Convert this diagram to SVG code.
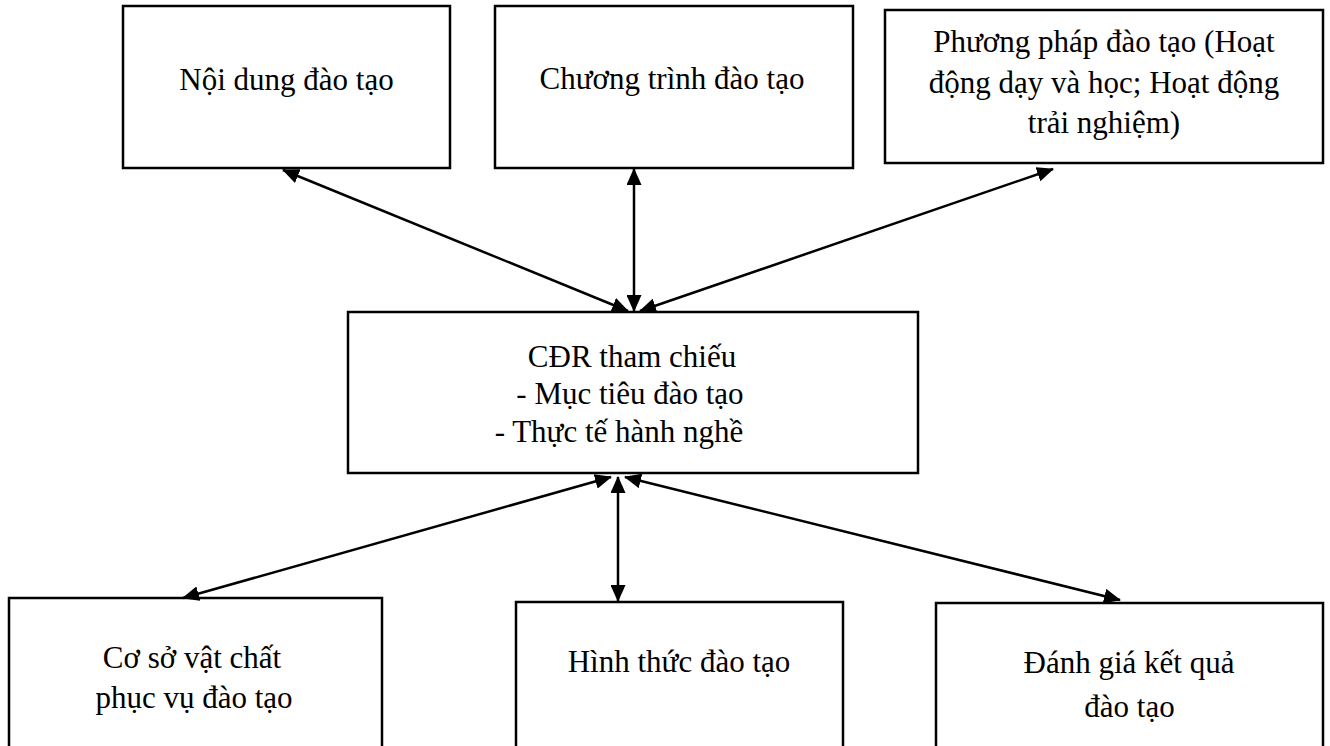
<svg xmlns="http://www.w3.org/2000/svg" width="1330" height="746" viewBox="0 0 1330 746">
  <style>
    .box { fill: #ffffff; stroke: #000000; stroke-width: 2.5; }
    .lbl { font-family: "Liberation Serif", "Times New Roman", serif; font-size: 31px; fill: #000000; text-anchor: middle; }
    .link { stroke: #000000; stroke-width: 2.5; fill: none; marker-start: url(#head); marker-end: url(#head); }
  </style>
  <defs>
    <marker id="head" markerUnits="userSpaceOnUse" markerWidth="17" markerHeight="15" refX="16" refY="7.5" orient="auto-start-reverse" viewBox="0 0 17 15">
      <path d="M0,0 L17,7.5 L0,15 Z" fill="#000000"/>
    </marker>
  </defs>
  <rect width="1330" height="746" fill="#ffffff"/>

  <!-- top row -->
  <g id="noi-dung">
    <rect class="box" x="123" y="6" width="327" height="162"/>
    <text class="lbl" x="286.5" y="90">Nội dung đào tạo</text>
  </g>
  <g id="chuong-trinh">
    <rect class="box" x="495" y="6" width="358" height="162"/>
    <text class="lbl" x="672" y="89">Chương trình đào tạo</text>
  </g>
  <g id="phuong-phap">
    <rect class="box" x="885" y="10" width="438" height="153"/>
    <text class="lbl" x="1104" y="52">Phương pháp đào tạo (Hoạt</text>
    <text class="lbl" x="1104" y="93">động dạy và học; Hoạt động</text>
    <text class="lbl" x="1104" y="133">trải nghiệm)</text>
  </g>

  <!-- centre -->
  <g id="cdr">
    <rect class="box" x="348" y="312" width="570" height="161"/>
    <text class="lbl" x="632" y="367">CĐR tham chiếu</text>
    <text class="lbl" x="630" y="404">- Mục tiêu đào tạo</text>
    <text class="lbl" x="619" y="442">- Thực tế hành nghề</text>
  </g>

  <!-- bottom row (boxes run past the lower edge) -->
  <g id="co-so">
    <rect class="box" x="9" y="598" width="373" height="170"/>
    <text class="lbl" x="192" y="668">Cơ sở vật chất</text>
    <text class="lbl" x="194" y="708">phục vụ đào tạo</text>
  </g>
  <g id="hinh-thuc">
    <rect class="box" x="516" y="602" width="327" height="170"/>
    <text class="lbl" x="679" y="672">Hình thức đào tạo</text>
  </g>
  <g id="danh-gia">
    <rect class="box" x="936" y="603" width="387" height="170"/>
    <text class="lbl" x="1129" y="673">Đánh giá kết quả</text>
    <text class="lbl" x="1129.5" y="717">đào tạo</text>
  </g>

  <!-- two-way connectors -->
  <g id="connectors">
    <line class="link" x1="283" y1="170" x2="628" y2="311"/>
    <line class="link" x1="634" y1="169" x2="634" y2="311"/>
    <line class="link" x1="1053" y1="169" x2="640" y2="311"/>
    <line class="link" x1="611" y1="477" x2="183" y2="598"/>
    <line class="link" x1="618" y1="477" x2="618" y2="601"/>
    <line class="link" x1="625" y1="477" x2="1120" y2="600"/>
  </g>
</svg>
